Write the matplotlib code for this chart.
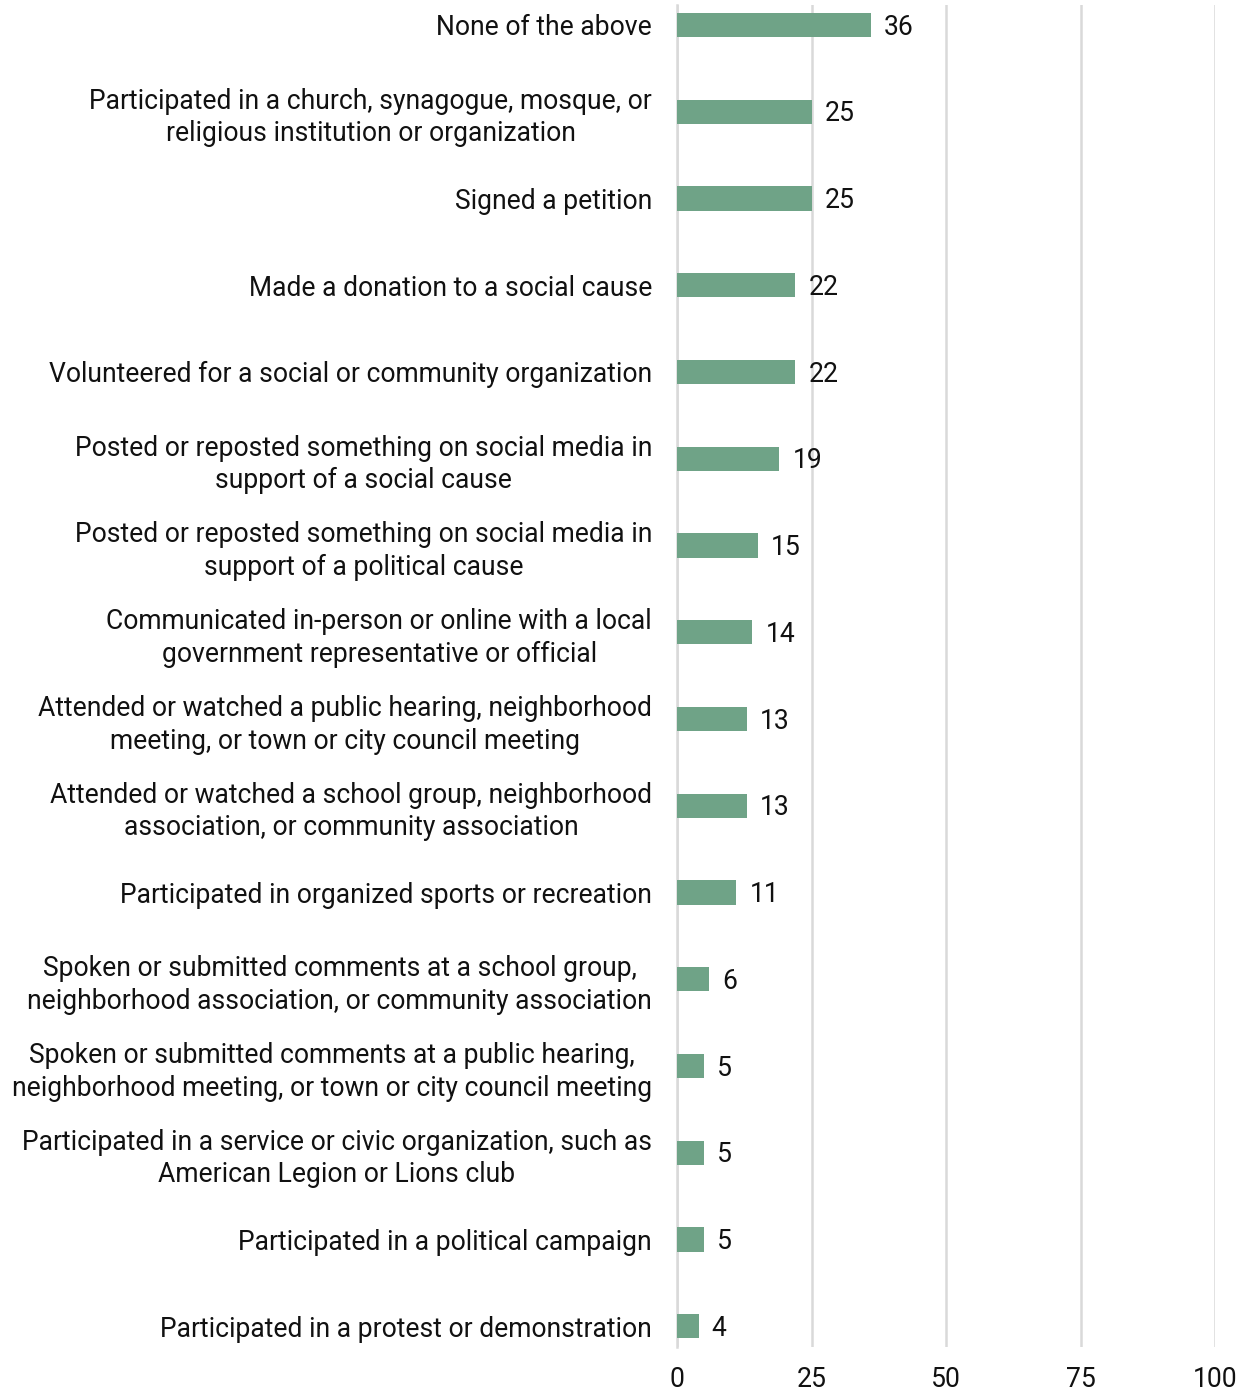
import matplotlib
matplotlib.use("Agg")
import matplotlib.pyplot as plt

categories = [
    "None of the above",
    "Participated in a church, synagogue, mosque, or\nreligious institution or organization",
    "Signed a petition",
    "Made a donation to a social cause",
    "Volunteered for a social or community organization",
    "Posted or reposted something on social media in\nsupport of a social cause",
    "Posted or reposted something on social media in\nsupport of a political cause",
    "Communicated in-person or online with a local\ngovernment representative or official",
    "Attended or watched a public hearing, neighborhood\nmeeting, or town or city council meeting",
    "Attended or watched a school group, neighborhood\nassociation, or community association",
    "Participated in organized sports or recreation",
    "Spoken or submitted comments at a school group,\nneighborhood association, or community association",
    "Spoken or submitted comments at a public hearing,\nneighborhood meeting, or town or city council meeting",
    "Participated in a service or civic organization, such as\nAmerican Legion or Lions club",
    "Participated in a political campaign",
    "Participated in a protest or demonstration",
]
values = [36, 25, 25, 22, 22, 19, 15, 14, 13, 13, 11, 6, 5, 5, 5, 4]
xticks = [0, 25, 50, 75, 100]

plt.rcParams['font.family'] = ['Roboto', 'DejaVu Sans']

fig = plt.figure(figsize=(12.51, 13.94), dpi=100)
ax = fig.add_axes([677/1251, 1 - 1347/1394, (1215-677)/1251, (1347-5)/1394])

ypos = list(range(len(categories)))
ax.barh(ypos, values, height=0.28, color="#6fa387", zorder=3)
for y, v in zip(ypos, values):
    ax.annotate(str(v), (v, y), xytext=(9.5, -1.5), textcoords="offset points",
                ha="left", va="center", fontsize=19.1, color="#111111")

ax.set_xlim(0, 100)
ax.set_ylim(15.24, -0.23)
ax.set_xticks(xticks)
ax.set_xticklabels([str(t) for t in xticks], fontsize=19.1, color="#111111")
ax.set_yticks(ypos)
ax.set_yticklabels(categories, fontsize=19.1, color="#111111", ha="right",
                   multialignment="center", linespacing=1.27)
ax.tick_params(axis="y", length=0, pad=18)
ax.tick_params(axis="x", length=0, pad=14)
ax.grid(axis="x", color="#d9d9d9", linewidth=1.8, zorder=0)
for s in ["top", "right", "bottom"]:
    ax.spines[s].set_visible(False)
ax.spines["left"].set_color("#d9d9d9")
ax.spines["left"].set_linewidth(1.8)

fig.savefig("out.png", dpi=100)
